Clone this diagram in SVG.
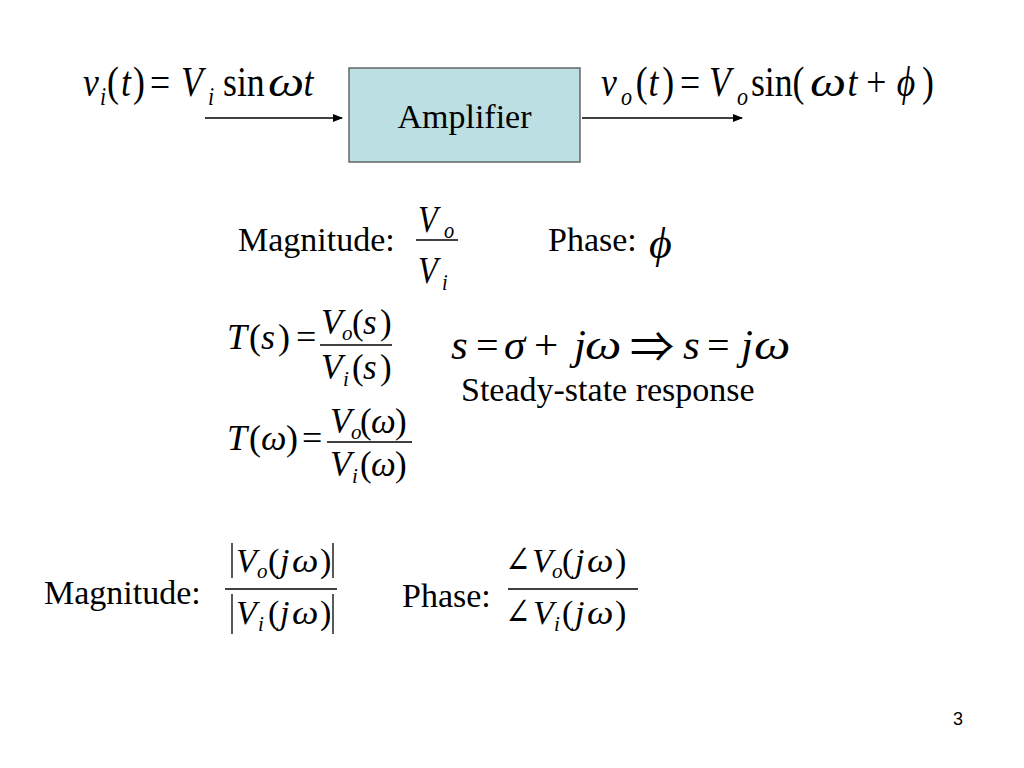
<svg xmlns="http://www.w3.org/2000/svg" width="1024" height="768" viewBox="0 0 1024 768">
<style>
text{font-family:"Liberation Serif","Times New Roman","DejaVu Serif",serif;fill:#000}
.i{font-style:italic}
.lbl{font-size:34px}
.fl{stroke:#000;stroke-width:1.3}
.num{font-family:"Liberation Sans",Arial,sans-serif;font-size:18px}
.arr{font-family:"Noto Sans CJK JP","DejaVu Sans",sans-serif}
</style>
<defs>
<marker id="ah" markerWidth="10" markerHeight="8" refX="9" refY="4" orient="auto" markerUnits="userSpaceOnUse">
<path d="M0,0 L10,4 L0,8 Z" fill="#000"/>
</marker>
</defs>
<rect width="1024" height="768" fill="#fff"/>

<g id="input-eq">
<g transform="scale(0.85,1)">
<text y="96" font-size="42"><tspan x="97.6" class="i">v</tspan><tspan x="117.6" y="105" font-size="26" class="i">i</tspan><tspan x="125.9" y="96">(</tspan><tspan x="142.4" class="i">t</tspan><tspan x="156.5">)</tspan><tspan x="176.5">=</tspan><tspan x="212.9" class="i">V</tspan><tspan x="244.7" y="105" font-size="26" class="i">i</tspan><tspan x="262.4" y="96">sin</tspan><tspan x="357" class="i">t</tspan></text>
</g>
<text class="i" font-size="42" transform="translate(268,96) scale(1.22,1)">ω</text>
</g>

<g id="amplifier">
<rect x="349" y="68" width="231" height="94" fill="#bbdfe2" stroke="#666" stroke-width="1.5"/>
<text x="464.5" y="128" class="lbl" text-anchor="middle">Amplifier</text>
</g>

<g id="output-eq">
<g transform="scale(0.85,1)">
<text y="96" font-size="42"><tspan x="707.1" class="i">v</tspan><tspan x="730.6" y="105" font-size="26" class="i">o</tspan><tspan x="748" y="96">(</tspan><tspan x="763" class="i">t</tspan><tspan x="779">)</tspan><tspan x="800">=</tspan><tspan x="834.1" class="i">V</tspan><tspan x="867.1" y="105" font-size="26" class="i">o</tspan><tspan x="883.5" y="96">sin(</tspan><tspan x="997" class="i">t</tspan><tspan x="1019">+</tspan><tspan x="1055" class="i">ϕ</tspan><tspan x="1084.7">)</tspan></text>
</g>
<text class="i" font-size="42" transform="translate(810,96) scale(1.22,1)">ω</text>
</g>

<g id="connectors">
<line x1="205" y1="118" x2="342" y2="118" stroke="#000" stroke-width="1.3" marker-end="url(#ah)"/>
<line x1="582" y1="118" x2="742" y2="118" stroke="#000" stroke-width="1.3" marker-end="url(#ah)"/>
</g>

<g id="magnitude1">
<text x="238" y="251" class="lbl">Magnitude:</text>
<g transform="scale(0.85,1)">
<text y="232" font-size="38"><tspan x="491.8" class="i">V</tspan><tspan x="522.4" y="238" font-size="24" class="i">o</tspan></text>
<text y="283" font-size="38"><tspan x="491.8" class="i">V</tspan><tspan x="520" y="290" font-size="24" class="i">i</tspan></text>
</g>
<line x1="416" y1="240" x2="458" y2="240" class="fl"/>
</g>

<g id="phase1">
<text x="548" y="251" class="lbl">Phase:</text>
<text x="649" y="258" font-size="44" class="i">ϕ</text>
</g>

<g id="Ts">
<text y="349" font-size="36"><tspan x="227" class="i">T</tspan><tspan x="249">(</tspan><tspan x="261" class="i">s</tspan><tspan x="278">)</tspan><tspan x="296">=</tspan></text>
<text y="334" font-size="35"><tspan x="321" class="i">V</tspan><tspan x="342" y="340" font-size="21" class="i">o</tspan><tspan x="352" y="334">(</tspan><tspan x="363" class="i">s</tspan><tspan x="380">)</tspan></text>
<line x1="320" y1="345" x2="392" y2="345" class="fl"/>
<text y="379" font-size="35"><tspan x="321" class="i">V</tspan><tspan x="343" y="386" font-size="21" class="i">i</tspan><tspan x="352" y="379">(</tspan><tspan x="363" class="i">s</tspan><tspan x="380">)</tspan></text>
</g>

<g id="s-eq">
<text y="359" font-size="43"><tspan x="451" class="i">s</tspan><tspan x="476" font-size="40">=</tspan><tspan x="504" class="i">σ</tspan><tspan x="534">+</tspan><tspan x="574" class="i">j</tspan><tspan x="683" class="i">s</tspan><tspan x="707" font-size="40">=</tspan><tspan x="741" class="i">j</tspan></text>
<text class="i" font-size="43" transform="translate(585,359) scale(1.2,1)">ω</text>
<text class="arr" font-size="42" transform="translate(630,362) scale(1.05,1)">⇒</text>
<text class="i" font-size="43" transform="translate(754,359) scale(1.2,1)">ω</text>
<text x="461" y="401" class="lbl">Steady-state response</text>
</g>

<g id="Tw">
<text y="450" font-size="36"><tspan x="227" class="i">T</tspan><tspan x="249">(</tspan><tspan x="286">)</tspan><tspan x="302">=</tspan></text>
<text class="i" font-size="36" transform="translate(261,450)">ω</text>
<text y="433" font-size="35"><tspan x="330" class="i">V</tspan><tspan x="351" y="439" font-size="21" class="i">o</tspan><tspan x="360" y="433">(</tspan><tspan x="395">)</tspan></text>
<text class="i" font-size="35" transform="translate(371,433)">ω</text>
<line x1="327" y1="442" x2="412" y2="442" class="fl"/>
<text y="476" font-size="35"><tspan x="330" class="i">V</tspan><tspan x="352" y="483" font-size="21" class="i">i</tspan><tspan x="360" y="476">(</tspan><tspan x="395">)</tspan></text>
<text class="i" font-size="35" transform="translate(371,476)">ω</text>
</g>

<g id="magnitude2">
<text x="44" y="604" class="lbl">Magnitude:</text>
<line x1="232" y1="543" x2="232" y2="578" class="fl"/>
<text y="572" font-size="34"><tspan x="236" class="i">V</tspan><tspan x="257" y="578" font-size="21" class="i">o</tspan><tspan x="268" y="572">(</tspan><tspan x="280" class="i">j</tspan><tspan x="320">)</tspan></text>
<text class="i" font-size="34" transform="translate(292,572) scale(1.1,1)">ω</text>
<line x1="333" y1="543" x2="333" y2="578" class="fl"/>
<line x1="225" y1="589" x2="337" y2="589" class="fl"/>
<line x1="232" y1="594" x2="232" y2="634" class="fl"/>
<text y="624" font-size="34"><tspan x="236" class="i">V</tspan><tspan x="258" y="631" font-size="21" class="i">i</tspan><tspan x="268" y="624">(</tspan><tspan x="280" class="i">j</tspan><tspan x="320">)</tspan></text>
<text class="i" font-size="34" transform="translate(292,624) scale(1.1,1)">ω</text>
<line x1="333" y1="594" x2="333" y2="634" class="fl"/>
</g>

<g id="phase2">
<text x="402" y="607" class="lbl">Phase:</text>
<text font-size="38" transform="translate(505,573) scale(0.8,1)">∠</text>
<text y="572" font-size="34"><tspan x="532" class="i">V</tspan><tspan x="552" y="578" font-size="21" class="i">o</tspan><tspan x="562" y="572">(</tspan><tspan x="575" class="i">j</tspan><tspan x="615">)</tspan></text>
<text class="i" font-size="34" transform="translate(587,572) scale(1.1,1)">ω</text>
<line x1="508" y1="589" x2="638" y2="589" class="fl"/>
<text font-size="38" transform="translate(505,625) scale(0.8,1)">∠</text>
<text y="624" font-size="34"><tspan x="533" class="i">V</tspan><tspan x="554" y="631" font-size="21" class="i">i</tspan><tspan x="562" y="624">(</tspan><tspan x="575" class="i">j</tspan><tspan x="615">)</tspan></text>
<text class="i" font-size="34" transform="translate(587,624) scale(1.1,1)">ω</text>
</g>

<text x="953" y="725" class="num">3</text>
</svg>
